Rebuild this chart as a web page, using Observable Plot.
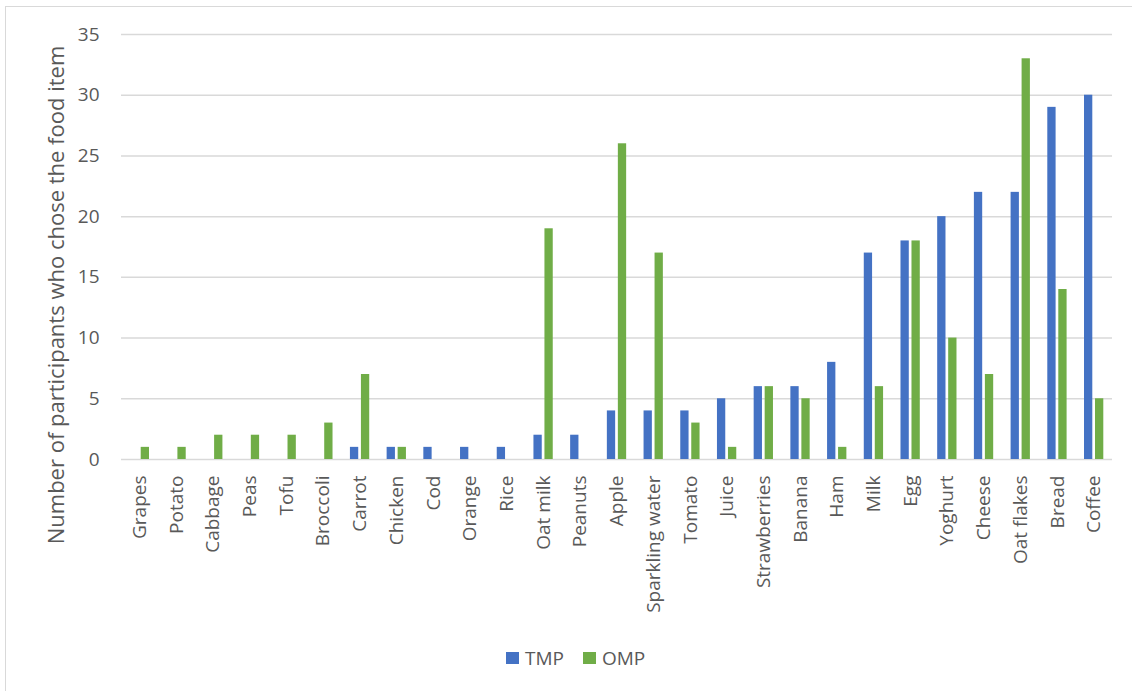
<!DOCTYPE html>
<html>
<head>
<meta charset="utf-8">
<script src="https://cdn.jsdelivr.net/npm/d3@7"></script>
<script src="https://cdn.jsdelivr.net/npm/@observablehq/plot@0.6"></script>
<style>
  html, body { margin: 0; padding: 0; background: #fff; overflow: hidden; }
  #wrap { position: relative; width: 1132px; height: 691px; overflow: hidden; font-family: "Open Sans", sans-serif; color: #595959; }
  #frame { position: absolute; left: 5px; top: 6px; width: 1200px; height: 800px; border: 1px solid #d9d9d9; box-sizing: border-box; }
  #chart { position: absolute; left: 0; top: 0; width: 1132px; }
  #chart svg { max-width: none !important; }
  #ytitle { position: absolute; left: 55px; top: 295px; transform: translate(-50%, -50%) rotate(-90deg); white-space: nowrap; font-size: 22px; }
  #legend { position: absolute; left: 506px; top: 645px; display: flex; align-items: center; font-size: 19px; }
  #legend .item { display: flex; align-items: center; margin-right: 19px; }
  #legend .sw { width: 13px; height: 12px; margin-right: 6px; }
</style>
</head>
<body>
<div id="wrap">
  <div id="frame"></div>
  <div id="chart"></div>
  <div id="ytitle">Number of participants who chose the food item</div>
  <div id="legend"></div>
</div>
<script>
const foods = ["Grapes","Potato","Cabbage","Peas","Tofu","Broccoli","Carrot","Chicken","Cod","Orange","Rice","Oat milk","Peanuts","Apple","Sparkling water","Tomato","Juice","Strawberries","Banana","Ham","Milk","Egg","Yoghurt","Cheese","Oat flakes","Bread","Coffee"];
const tmp = [0,0,0,0,0,0,1,1,1,1,1,2,2,4,4,4,5,6,6,8,17,18,20,22,22,29,30];
const omp = [1,1,2,2,2,3,7,1,0,0,0,19,0,26,17,3,1,6,5,1,6,18,10,7,33,14,5];
const groups = ["TMP","OMP"];
const colors = ["#4472C4","#70AD47"];
const yTicks = [0,5,10,15,20,25,30,35];

const tmpData = foods.map((f, i) => ({food: f, group: groups[0], value: tmp[i]}));
const ompData = foods.map((f, i) => ({food: f, group: groups[1], value: omp[i]}));

const W = 1132, ML = 121, MR = 20;
const step = (W - ML - MR) / foods.length;   // band width per category
const barW = 8.3, gap = 2.7;                 // Excel-like bar width and gap
const outer = step / 2 - gap / 2 - barW;     // inset on the far side
const inner = step / 2 + gap / 2;            // inset on the near side

const chart = Plot.plot({
  width: W,
  height: 640,
  marginLeft: ML,
  marginRight: MR,
  marginTop: 34,
  marginBottom: 181,
  style: {fontFamily: "'Open Sans', sans-serif", fontSize: "19px", color: "#595959", background: "transparent", overflow: "visible"},
  x: {domain: foods, padding: 0, round: false, tickRotate: -90, tickSize: 0, tickPadding: 16, label: null},
  y: {domain: [0, 35], ticks: yTicks, tickSize: 0, tickPadding: 22, label: null},
  color: {domain: groups, range: colors},
  marks: [
    Plot.ruleY(yTicks, {stroke: "#d9d9d9", strokeWidth: 1.5}),
    Plot.barY(tmpData, {x: "food", y: "value", fill: "group", insetLeft: outer, insetRight: inner}),
    Plot.barY(ompData, {x: "food", y: "value", fill: "group", insetLeft: inner, insetRight: outer})
  ]
});
document.getElementById("chart").appendChild(chart);

const legend = document.getElementById("legend");
groups.forEach((g, i) => {
  const item = document.createElement("div");
  item.className = "item";
  const sw = document.createElement("div");
  sw.className = "sw";
  sw.style.background = colors[i];
  const t = document.createElement("span");
  t.textContent = g;
  item.appendChild(sw);
  item.appendChild(t);
  legend.appendChild(item);
});
</script>
</body>
</html>
